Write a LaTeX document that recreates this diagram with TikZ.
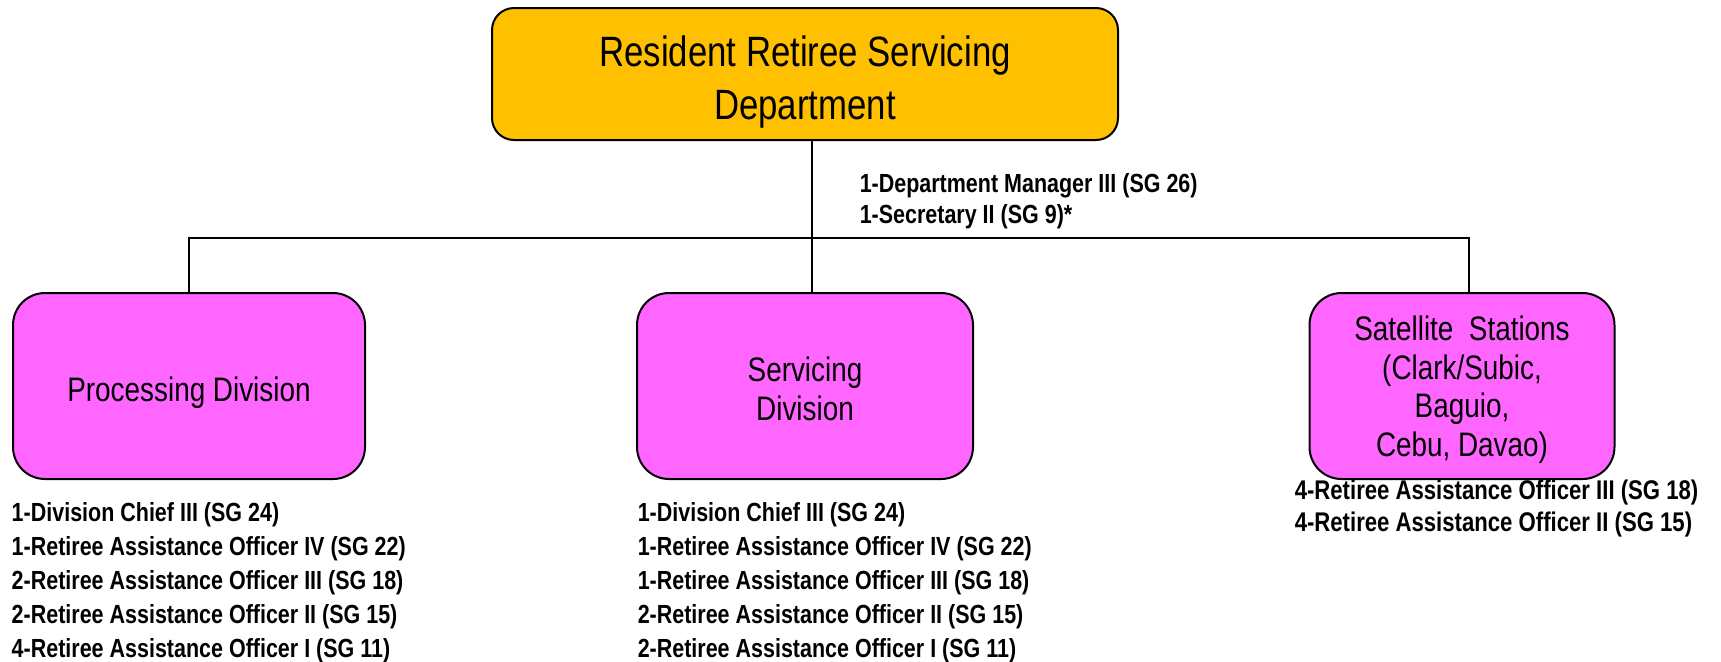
\documentclass[tikz,border=0pt]{standalone}
\usepackage{fontspec}
\setmainfont{Liberation Sans}[FakeStretch=0.82]
\definecolor{deptorange}{HTML}{FFC000}
\definecolor{divpink}{HTML}{FF66FF}
\newcommand\boxtext[2]{\raisebox{-#1}[\height][\depth]{\begin{tabular}{@{}c@{}}#2\end{tabular}}}
\begin{document}
\begin{tikzpicture}[x=0.5pt,y=-0.5pt,line width=0.75pt,
		dept/.style={draw,line width=1pt,fill=deptorange,rounded corners=11pt,minimum width=313pt,minimum height=66pt,inner sep=0pt,font=\fontsize{21.2}{26.5}\selectfont},
		division/.style={draw,line width=1pt,fill=divpink,rounded corners=16pt,minimum height=93pt,inner sep=0pt,font=\fontsize{17}{19.4}\selectfont},
		staff/.style={anchor=north west,inner sep=0pt,align=left,font=\fontsize{13.1}{17}\selectfont\bfseries}]
		\useasboundingbox (0,0) rectangle (1721,661);
		\node[dept] (rrsd) at (805,74) {\boxtext{4.3pt}{Resident Retiree Servicing\\Department}};
		\node[division,minimum width=176pt] (proc) at (189,386) {\boxtext{4pt}{Processing Division}};
		\node[division,minimum width=168pt] (serv) at (805,386) {\boxtext{3.7pt}{Servicing\\Division}};
		\node[division,minimum width=152.5pt] (sat) at (1462,386) {\boxtext{2.4pt}{Satellite~~Stations\\(Clark/Subic,\\Baguio,\\Cebu, Davao)}};
		\coordinate (bus) at (812,238);
		\draw ([xshift=3.5pt]rrsd.south) -- ([xshift=3.5pt]serv.north);
		\draw (proc.north) |- (bus) -| ([xshift=3.5pt]sat.north);
		\node[staff,font=\fontsize{13.1}{15.5}\selectfont\bfseries] (rrsdstaff) at (859,173) {1-Department Manager III (SG 26)\\1-Secretary II (SG 9)*};
		\node[staff] (procstaff) at (11,502) {1-Division Chief III (SG 24)\\1-Retiree Assistance Officer IV (SG 22)\\2-Retiree Assistance Officer III (SG 18)\\2-Retiree Assistance Officer II (SG 15)\\4-Retiree Assistance Officer I (SG 11)};
		\node[staff] (servstaff) at (637,502) {1-Division Chief III (SG 24)\\1-Retiree Assistance Officer IV (SG 22)\\1-Retiree Assistance Officer III (SG 18)\\2-Retiree Assistance Officer II (SG 15)\\2-Retiree Assistance Officer I (SG 11)};
		\node[staff,font=\fontsize{13.5}{16}\selectfont\bfseries] (satstaff) at (1294,479) {4-Retiree Assistance Officer III (SG 18)\\4-Retiree Assistance Officer II (SG 15)};
\end{tikzpicture}
\end{document}
